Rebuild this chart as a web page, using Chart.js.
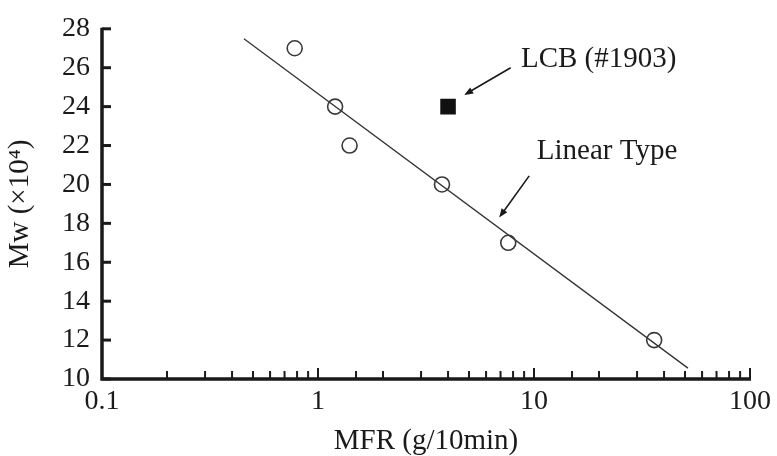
<!DOCTYPE html>
<html>
<head>
<meta charset="utf-8">
<script src="https://cdn.jsdelivr.net/npm/chart.js@4/dist/chart.umd.min.js"></script>
<style>
  html, body { margin: 0; padding: 0; background: #fff; }
  #wrap { width: 777px; height: 456px; }
</style>
</head>
<body>
<div id="wrap"><canvas id="mwChart" width="777" height="456"></canvas></div>
<script>
// measured samples (open circles)
const mfrLinear = [0.78, 1.2, 1.4, 3.75, 7.6, 36];
const mwLinear = [27, 24, 22, 20, 17, 12];
// LCB sample (filled square)
const mfrLcb = [4.0];
const mwLcb = [24];
// fitted line end points
const mfrFit = [0.454, 51.6];
const mwFit = [27.49, 10.56];
// axis ticks
const xDecades = [0.1, 1, 10, 100];
const yTicks = [10, 12, 14, 16, 18, 20, 22, 24, 26, 28];

// annotations, anchored in data units: text pos, arrow tail, arrow head
const notes = [
    { text: 'LCB (#1903)', at: [8.7, 26.43], tail: [7.8, 26.0], head: [4.75, 24.6] },
    { text: 'Linear Type', at: [10.3, 21.7], tail: [9.5, 20.44], head: [6.9, 18.3] }
];

const FONT = "'Liberation Serif', 'Times New Roman', serif";
const INK = '#1a1a1a';

const toPts = (xs, ys) => xs.map((x, i) => ({ x: x, y: ys[i] }));

// axis lines + inward tick marks + annotations
const axisPlugin = {
    id: 'axisDeco',
    afterDatasetsDraw(chart) {
        const ctx = chart.ctx;
        const xs = chart.scales.x, ys = chart.scales.y;
        const a = chart.chartArea;
        ctx.save();
        ctx.strokeStyle = INK;
        ctx.lineCap = 'butt';

        // y ticks (pointing right)
        ctx.lineWidth = 3;
        yTicks.forEach(v => {
            const py = ys.getPixelForValue(v);
            ctx.beginPath();
            ctx.moveTo(a.left, py);
            ctx.lineTo(a.left + 9, py);
            ctx.stroke();
        });

        // x ticks (pointing up), longer at decades
        ctx.lineWidth = 2;
        xs.ticks.forEach(t => {
            const lg = Math.log10(t.value);
            const major = Math.abs(lg - Math.round(lg)) < 1e-6;
            const px = xs.getPixelForValue(t.value);
            ctx.beginPath();
            ctx.moveTo(px, a.bottom);
            ctx.lineTo(px, a.bottom - (major ? 11 : 8));
            ctx.stroke();
        });

        // axis lines
        ctx.lineWidth = 3.5;
        ctx.beginPath();
        ctx.moveTo(a.left, ys.getPixelForValue(yTicks[yTicks.length - 1]) - 1);
        ctx.lineTo(a.left, a.bottom);
        ctx.lineTo(xs.getPixelForValue(xDecades[xDecades.length - 1]) + 1, a.bottom);
        ctx.stroke();

        // annotations
        ctx.fillStyle = INK;
        ctx.font = '29px ' + FONT;
        ctx.textAlign = 'left';
        ctx.textBaseline = 'middle';
        notes.forEach(n => {
            ctx.fillText(n.text, xs.getPixelForValue(n.at[0]), ys.getPixelForValue(n.at[1]));
            const x1 = xs.getPixelForValue(n.tail[0]), y1 = ys.getPixelForValue(n.tail[1]);
            const x2 = xs.getPixelForValue(n.head[0]), y2 = ys.getPixelForValue(n.head[1]);
            const ang = Math.atan2(y2 - y1, x2 - x1);
            const hl = 9, hw = 3.5;
            ctx.lineWidth = 1.6;
            ctx.beginPath();
            ctx.moveTo(x1, y1);
            ctx.lineTo(x2 - Math.cos(ang) * hl * 0.8, y2 - Math.sin(ang) * hl * 0.8);
            ctx.stroke();
            ctx.beginPath();
            ctx.moveTo(x2, y2);
            ctx.lineTo(x2 - Math.cos(ang) * hl - Math.sin(ang) * hw, y2 - Math.sin(ang) * hl + Math.cos(ang) * hw);
            ctx.lineTo(x2 - Math.cos(ang) * hl + Math.sin(ang) * hw, y2 - Math.sin(ang) * hl - Math.cos(ang) * hw);
            ctx.closePath();
            ctx.fill();
        });
        ctx.restore();
    }
};

new Chart(document.getElementById('mwChart'), {
    type: 'scatter',
    data: {
        datasets: [
            {
                label: 'Linear fit',
                data: toPts(mfrFit, mwFit),
                showLine: true,
                borderColor: '#333',
                borderWidth: 1.3,
                pointRadius: 0,
                order: 3
            },
            {
                label: 'Linear Type',
                data: toPts(mfrLinear, mwLinear),
                pointStyle: 'circle',
                pointRadius: 7.5,
                pointBorderWidth: 1.6,
                borderColor: '#3a3a3a',
                backgroundColor: 'rgba(0,0,0,0)',
                order: 2
            },
            {
                label: 'LCB (#1903)',
                data: toPts(mfrLcb, mwLcb),
                pointStyle: 'rect',
                pointRadius: 11,
                pointBorderWidth: 0,
                borderColor: '#111',
                backgroundColor: '#111',
                order: 1
            }
        ]
    },
    options: {
        responsive: false,
        animation: false,
        layout: { padding: { top: 24, right: 26, left: 0, bottom: 0 } },
        plugins: {
            legend: { display: false },
            tooltip: { enabled: false }
        },
        scales: {
            x: {
                type: 'logarithmic',
                min: xDecades[0],
                max: xDecades[xDecades.length - 1],
                grid: { display: false, drawTicks: false },
                border: { display: false },
                afterFit: s => { s.height = 77; },
                ticks: {
                    autoSkip: false,
                    maxRotation: 0,
                    padding: 6,
                    color: INK,
                    font: { family: FONT, size: 28 },
                    callback: v => {
                        const lg = Math.log10(v);
                        return Math.abs(lg - Math.round(lg)) < 1e-6 ? String(xDecades.find(d => Math.abs(d - v) < 1e-9) ?? v) : '';
                    }
                },
                title: {
                    display: true,
                    text: 'MFR (g/10min)',
                    color: INK,
                    padding: { top: 0, bottom: 0 },
                    font: { family: FONT, size: 29, lineHeight: 1.0 }
                }
            },
            y: {
                min: yTicks[0],
                max: yTicks[yTicks.length - 1],
                grid: { display: false, drawTicks: false },
                border: { display: false },
                afterFit: s => { s.width = 102; },
                afterBuildTicks: s => { s.ticks = yTicks.map(v => ({ value: v })); },
                ticks: {
                    padding: 12,
                    color: INK,
                    font: { family: FONT, size: 28 }
                },
                title: {
                    display: true,
                    text: 'Mw (×10⁴)',
                    color: INK,
                    padding: { top: 6, bottom: 6 },
                    font: { family: FONT, size: 29, lineHeight: 1.0 }
                }
            }
        }
    },
    plugins: [axisPlugin]
});
</script>
</body>
</html>
